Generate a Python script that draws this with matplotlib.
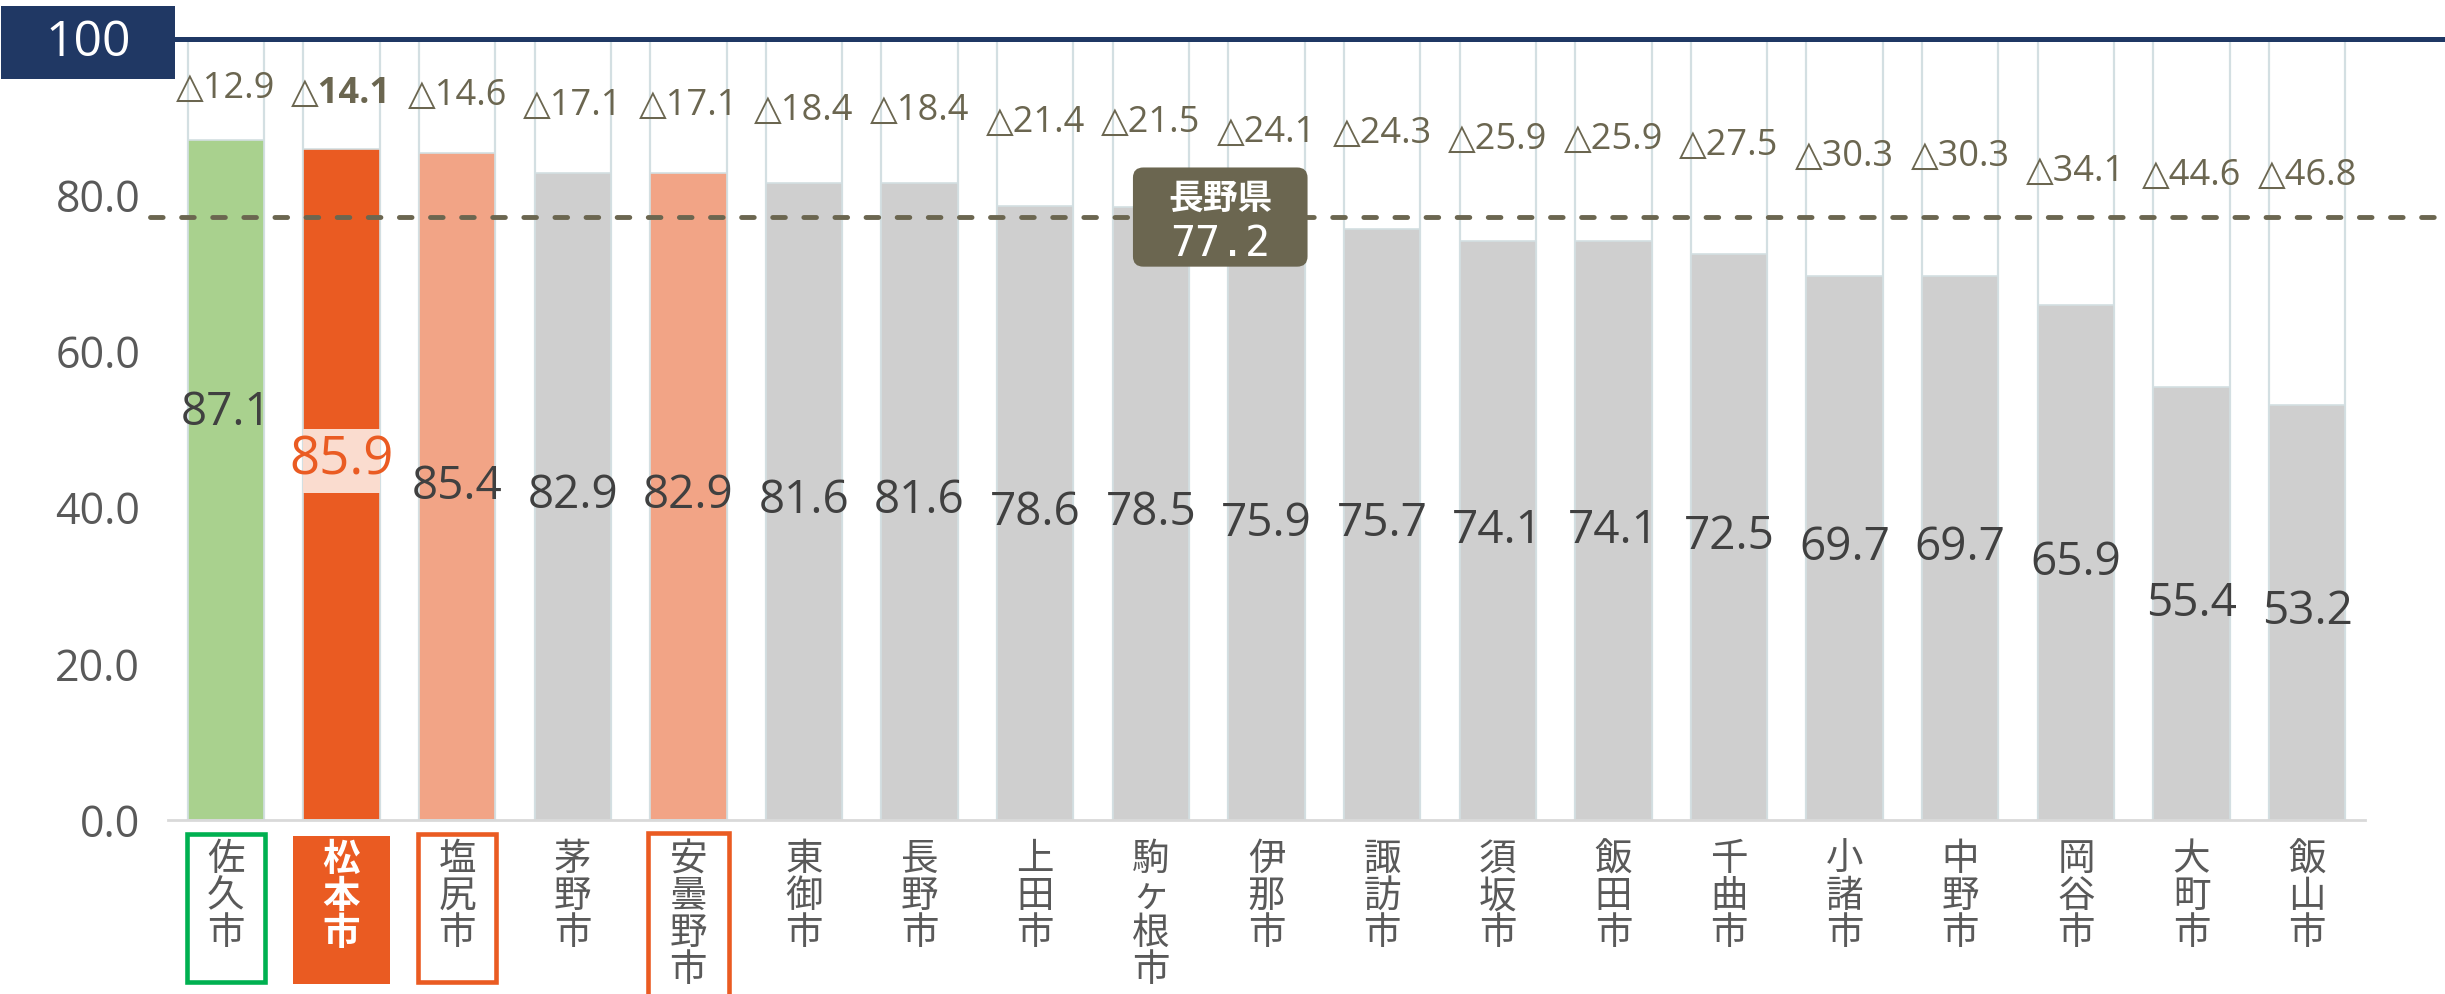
import matplotlib
matplotlib.use('Agg')
import matplotlib.pyplot as plt
import matplotlib.transforms as mtransforms
from matplotlib.patches import Rectangle, FancyBboxPatch
import numpy as np

# ---------------- data ----------------
cities = ['佐久市', '松本市', '塩尻市', '茅野市', '安曇野市', '東御市', '長野市', '上田市',
          '駒ヶ根市', '伊那市', '諏訪市', '須坂市', '飯田市', '千曲市', '小諸市', '中野市',
          '岡谷市', '大町市', '飯山市']
values = [87.1, 85.9, 85.4, 82.9, 82.9, 81.6, 81.6, 78.6, 78.5, 75.9, 75.7, 74.1, 74.1,
          72.5, 69.7, 69.7, 65.9, 55.4, 53.2]
deltas = [12.9, 14.1, 14.6, 17.1, 17.1, 18.4, 18.4, 21.4, 21.5, 24.1, 24.3, 25.9, 25.9,
          27.5, 30.3, 30.3, 34.1, 44.6, 46.8]
pref_name = '長野県'
pref_avg = 77.2
top_value = 100
y_ticks = [0, 20, 40, 60, 80]

# ---------------- style ----------------
GREEN = '#A9D18E'
ORANGE = '#EA5B22'
SALMON = '#F2A486'
GRAY = '#CFCFCF'
OLIVE = '#6B6650'
NAVY = '#1F3864'
TXT = '#595959'
num_font = ['Open Sans', 'DejaVu Sans']
jp_font = ['Noto Sans CJK JP', 'DejaVu Sans']

bar_colors = [GREEN, ORANGE, SALMON, GRAY, SALMON] + [GRAY] * (len(cities) - 5)

W, H = 2445, 994
fig = plt.figure(figsize=(W / 100, H / 100), dpi=100)
ax_left, ax_right, ax_top, ax_bot = 168, 2365, 39, 820
ax = fig.add_axes([ax_left / W, 1 - ax_bot / H, (ax_right - ax_left) / W, (ax_bot - ax_top) / H])

n = len(cities)
x = np.arange(n)
ax.set_xlim(-0.5, n - 0.5)
ax.set_ylim(0, top_value)

bw = 0.66
ax.bar(x, [top_value] * n, width=bw, color='white', edgecolor='#D3DFE2', linewidth=1.6, zorder=1)
ax.bar(x, values, width=bw, color=bar_colors, edgecolor='#D3DFE2', linewidth=1.2, zorder=2)

# spines / ticks
for s in ['top', 'right', 'left']:
    ax.spines[s].set_visible(False)
ax.spines['bottom'].set_color('#D9D9D9')
ax.spines['bottom'].set_linewidth(2)
ax.set_xticks([])
ax.set_yticks(y_ticks)
ax.set_yticklabels([f'{t:.1f}' for t in y_ticks])
ax.tick_params(axis='y', length=0, pad=20, labelsize=31, labelcolor=TXT)
for lab in ax.get_yticklabels():
    lab.set_family(num_font)

# top 100 line
axw = ax_right - ax_left
ax.axhline(top_value, xmin=(175 - ax_left) / axw, xmax=(W - ax_left) / axw,
           color=NAVY, lw=3.6, clip_on=False, zorder=5)
fig.patches.append(Rectangle((1 / W, 1 - 79 / H), 174 / W, 73 / H, transform=fig.transFigure,
                             facecolor='#203864', edgecolor='none', zorder=6))
fig.text(88 / W, 1 - 43 / H, str(top_value), ha='center', va='center', fontsize=36,
         color='white', family=num_font, zorder=7)

# prefecture average dashed line
ax.axhline(pref_avg, xmin=(150 - ax_left) / axw, xmax=(W - ax_left) / axw, color=OLIVE,
           lw=3.5, ls=(0, (2.6, 3.8)), dash_capstyle='round', clip_on=False, zorder=4)

# prefecture label box
bx, bwid, bhgt = 8.6, 1.51, 12.7
box = FancyBboxPatch((bx - bwid / 2, pref_avg - bhgt / 2), bwid, bhgt,
                     boxstyle='round,pad=0,rounding_size=0.09', mutation_aspect=14.5,
                     facecolor=OLIVE, edgecolor='none', zorder=8)
ax.add_patch(box)
ax.text(bx, pref_avg + 2.4, pref_name, ha='center', va='center', fontsize=25,
        fontweight='bold', color='white', family=jp_font, zorder=9)
ax.text(bx, pref_avg - 3.4, f'{pref_avg:.1f}', ha='center', va='center', fontsize=30,
        color='white', family=['DejaVu Sans Mono'], zorder=9)

# delta labels
for i, d in enumerate(deltas):
    ly = max(top_value - d / 2, 82.5)
    ax.text(i, ly, f'△{d:.1f}', ha='center', va='center', fontsize=26, color=OLIVE,
            fontweight='bold' if i == 1 else 'normal', family=num_font, zorder=6)

# value labels
nudges = {0: 8.6, 1: 3.0}
for i, v in enumerate(values):
    ly = v / 2 + nudges.get(i, 0)
    if i == 1:
        ax.add_patch(Rectangle((i - bw / 2, ly - 4.05), bw, 8.1, facecolor='#FADCCF',
                               edgecolor='none', zorder=5))
        ax.text(i, ly, f'{v:.1f}', ha='center', va='center', fontsize=38, color=ORANGE,
                family=num_font, zorder=6)
    else:
        ax.text(i, ly, f'{v:.1f}', ha='center', va='center', fontsize=33, color='#404040',
                family=num_font, zorder=6)

# category labels (vertical)
trans = mtransforms.blended_transform_factory(ax.transData, ax.transAxes)
for i, c in enumerate(cities):
    col = 'white' if i == 1 else TXT
    ax.text(i, -0.026, '\n'.join(c), transform=trans, ha='center', va='top', fontsize=27,
            linespacing=0.93, color=col, family=jp_font,
            fontweight='bold' if i == 1 else 'normal', zorder=6)

# highlight boxes around labels
ax.add_patch(Rectangle((0 - 0.34, -0.207), 0.68, 0.189, transform=trans, fill=False,
                       edgecolor='#00B050', lw=3.3, clip_on=False, zorder=5))
ax.add_patch(Rectangle((1 - 0.42, -0.210), 0.84, 0.190, transform=trans, facecolor=ORANGE,
                       edgecolor='none', clip_on=False, zorder=5))
ax.add_patch(Rectangle((2 - 0.34, -0.207), 0.68, 0.189, transform=trans, fill=False,
                       edgecolor=ORANGE, lw=3.3, clip_on=False, zorder=5))
ax.add_patch(Rectangle((4 - 0.35, -0.26), 0.70, 0.243, transform=trans, fill=False,
                       edgecolor=ORANGE, lw=3.3, clip_on=False, zorder=5))

fig.savefig('out.png', dpi=100)
